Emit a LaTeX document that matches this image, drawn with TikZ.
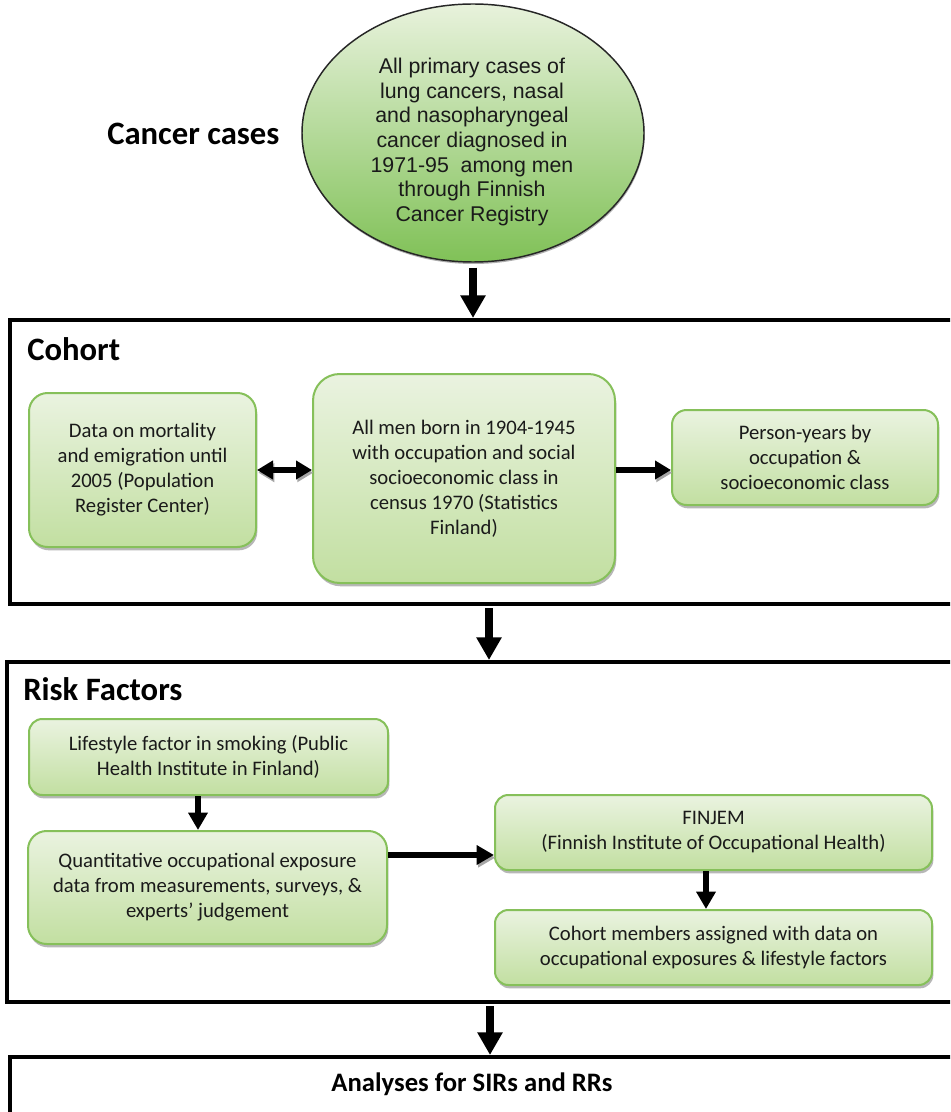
\documentclass[tikz,border=0pt]{standalone}
\usepackage{fontspec}
\setmainfont{Carlito}
\newfontfamily\arialf{Liberation Sans}
\usetikzlibrary{arrows.meta,shapes.geometric,shadows,calc}
\definecolor{boxtop}{HTML}{EAF3E0}
\definecolor{boxbot}{HTML}{C2DFA1}
\definecolor{boxline}{HTML}{86C05A}
\definecolor{elltop}{HTML}{E8F2DC}
\definecolor{ellmid}{HTML}{A6D389}
\definecolor{ellbot}{HTML}{80C157}
\definecolor{txt}{HTML}{1A1A1A}
\begin{document}
\begin{tikzpicture}[x=0.75pt,y=-0.75pt,
  gbox/.style={rectangle, rounded corners=14pt, draw=boxline, line width=1.5pt,
    top color=boxtop, bottom color=boxbot,
    drop shadow={shadow xshift=1pt, shadow yshift=-2.5pt, opacity=0.4, fill=black!70},
    align=center, font=\fontsize{15.5}{18.75}\selectfont, text=txt, inner sep=0pt},
  frame/.style={rectangle, draw=black, line width=3pt, inner sep=0pt},
  bigarrow/.style={line width=6pt, -{Triangle[width=18pt,length=17pt]}},
  medarrow/.style={line width=4pt, -{Triangle[width=13.5pt,length=12pt]}},
  smallarrow/.style={line width=4.5pt, -{Triangle[width=14pt,length=13pt]}},
  shadowed/.style={preaction={draw=black!35, transform canvas={shift={(1pt,-2pt)}}}},
  head/.style={font=\fontsize{24.5}{28}\selectfont\bfseries, anchor=base west, inner sep=0pt, text=black},
]
\useasboundingbox (0,0) rectangle (950,1112);
\clip (0,0) rectangle (950,1112);
\fill[white] (0,0) rectangle (950,1112);

% frames
\node[frame, minimum width=712.5pt, minimum height=213pt] (cohortframe) at (485,462) {};
\node[frame, minimum width=714.75pt, minimum height=255pt] (riskframe) at (483.5,832) {};
\node[frame, minimum width=712.5pt, minimum height=69.75pt] (anaframe) at (485,1103.5) {};

% headings
\node[head] (hcases) at (107,145) {Cancer cases};
\node[head] (hcohort) at (27,360) {Cohort};
\node[head] (hrisk) at (23,700) {Risk Factors};
\node[font=\fontsize{20}{24}\selectfont\bfseries, anchor=base, inner sep=0pt, text=black] (hana) at (472,1091) {Analyses for SIRs and RRs};

% ellipse
\node[ellipse, minimum width=256.5pt, minimum height=193.5pt, inner sep=0pt,
  draw=black!85, line width=1.1pt, top color=elltop, middle color=ellmid, bottom color=ellbot,
  drop shadow={shadow xshift=0.5pt, shadow yshift=-1.5pt, opacity=0.45, fill=black!70}] (cases) at (473,133) {};
\node[font=\arialf\fontsize{16}{18.5}\selectfont, align=center, text=txt, inner sep=0pt] (casestext) at (472,142)
  {All primary cases of\\lung cancers, nasal\\and nasopharyngeal\\cancer diagnosed in\\1971-95\ \ among men\\through Finnish\\Cancer Registry};

% cohort boxes
\node[gbox, minimum width=170.25pt, minimum height=115.5pt] (box1) at (142.5,470)
  {Data on mortality\\and emigration until\\2005 (Population\\Register Center)};
\node[gbox, rounded corners=20pt, minimum width=226.5pt, minimum height=156.75pt] (box2) at (464,478.5)
  {All men born in 1904-1945\\with occupation and social\\socioeconomic class in\\census 1970 (Statistics\\Finland)};
\node[gbox, rounded corners=11pt, minimum width=199.5pt, minimum height=71.25pt] (box3) at (805,457.5)
  {Person-years by\\occupation \&\\socioeconomic class};

% risk boxes
\node[gbox, rounded corners=10pt, minimum width=269.25pt, minimum height=57pt] (life) at (208.5,757)
  {Lifestyle factor in smoking (Public\\Health Institute in Finland)};
\node[gbox, minimum width=269.25pt, minimum height=84.75pt] (quant) at (207.5,887.5)
  {Quantitative occupational exposure\\data from measurements, surveys, \&\\experts' judgement};
\node[gbox, rounded corners=10pt, minimum width=327.75pt, minimum height=56.25pt] (finjem) at (713.5,832.5)
  {FINJEM\\(Finnish Institute of Occupational Health)};
\node[gbox, rounded corners=10pt, minimum width=327.75pt, minimum height=56.25pt] (members) at (713.5,947.5)
  {Cohort members assigned with data on\\occupational exposures \& lifestyle factors};

% connectors
\coordinate (c0) at ($(cases.south)+(0,5)$);
\draw[bigarrow] (c0) -- (c0 |- cohortframe.north);
\draw[medarrow, shadowed, {Triangle[width=13.5pt,length=12pt]}-{Triangle[width=13.5pt,length=12pt]}] (box1.east) -- (box1.east -| box2.west);
\draw[medarrow, shadowed] (box2.east |- box1.east) -- (box3.west |- box1.east);
\coordinate (c1) at ($(cohortframe.south)+(4,2)$);
\draw[bigarrow] (c1) -- (c1 |- riskframe.north);
\coordinate (c2) at ($(riskframe.south)+(6.5,2)$);
\draw[bigarrow] (c2) -- (c2 |- anaframe.north);
\coordinate (c3) at ($(life.south)+(-10.5,0)$);
\draw[smallarrow] (c3) -- (c3 |- quant.north);
\coordinate (c4) at ($(quant.east)+(0,-32.5)$);
\draw[smallarrow, shadowed] (c4) -- (c4 -| finjem.west);
\coordinate (c5) at ($(finjem.south)+(-7.5,0)$);
\draw[smallarrow] (c5) -- (c5 |- members.north);
\end{tikzpicture}
\end{document}
